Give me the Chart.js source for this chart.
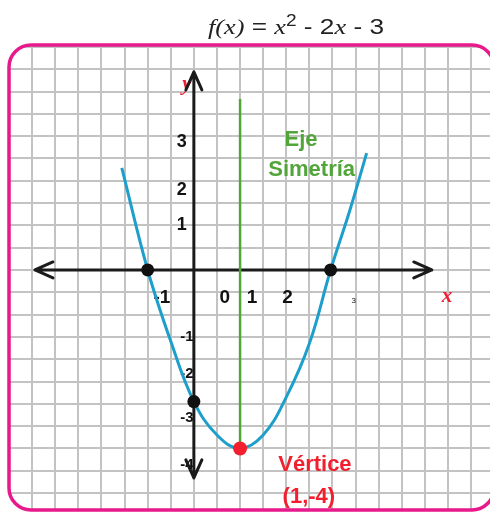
<!DOCTYPE html>
<html>
<head>
<meta charset="utf-8">
<script src="https://cdn.jsdelivr.net/npm/chart.js@4"></script>
<style>
  html, body { margin: 0; padding: 0; background: #fff; }
  canvas { display: block; }
</style>
</head>
<body>
<canvas id="parabola" width="490" height="513"></canvas>
<script>
const curveX = [-1.56, -1.0, -0.5, 0.0, 0.5, 1.0, 1.5, 2.0, 2.5, 2.96, 3.38, 3.74];
const curveY = [2.29, 0.0, -1.6, -2.95, -3.7, -4.0, -3.7, -2.85, -1.65, 0.0, 1.35, 2.62];

// roots and y-intercept (black dots), vertex (red dot)
const interceptX = [-1.0, 2.96, 0.0];
const interceptY = [0.0, 0.0, -2.95];
const vertexX = [1.0];
const vertexY = [-4.0];

// axis of symmetry
const symX = [1.0, 1.0];
const symY = [3.83, -4.0];

// axes with arrows (data extents)
const axisXRange = [-3.44, 5.15];
const axisYRange = [-4.66, 4.44];

// tick labels as they sit in the picture
const xTickText = ['-1', '0', '1', '2', '3'];
const xTickAt = [-0.69, 0.67, 1.26, 2.03, 3.46];
const yTickText = ['3', '2', '1', '-1', '-2', '-3', '-4'];
const yTickAt = [2.87, 1.79, 1.01, -1.50, -2.33, -3.32, -4.37];

// notes
const noteText = ['Eje', 'Simetría', 'Vértice', '(1,-4)'];
const noteX = [2.32, 2.55, 2.62, 2.49];
const noteY = [2.91, 2.24, -4.37, -5.09];

const SANS = '"Liberation Sans", Arial, sans-serif';
const GREEN = '#52a53a';
const RED = '#f2202e';

function halfSteps(a, b) {
  const out = [];
  for (let v = a; v <= b + 1e-9; v += 0.5) out.push({ value: Math.round(v * 10) / 10 });
  return out;
}

function frame(ctx) {
  ctx.beginPath();
  ctx.roundRect(9, 45, 485, 465, 22);
}

const decor = {
  id: 'decor',
  beforeDraw(chart) {
    const ctx = chart.ctx;
    ctx.save();
    ctx.fillStyle = '#fff';
    ctx.fillRect(0, 0, chart.width, chart.height);
    frame(ctx);
    ctx.clip();
  },
  beforeDatasetsDraw(chart) {
    const { ctx, scales: { x, y } } = chart;
    ctx.save();
    ctx.textAlign = 'center';
    ctx.textBaseline = 'middle';

    // x labels
    ctx.fillStyle = '#111';
    xTickText.forEach((t, i) => {
      ctx.font = t === '3' ? '8px ' + SANS : 'bold 19px ' + SANS;
      ctx.fillText(t, x.getPixelForValue(xTickAt[i]), y.getPixelForValue(t === '3' ? -0.68 : -0.63));
    });
    // y labels
    yTickText.forEach((t, i) => {
      const neg = t[0] === '-';
      ctx.font = neg ? 'bold 15px ' + SANS : 'bold 18px ' + SANS;
      ctx.fillText(t, x.getPixelForValue(neg ? -0.15 : -0.26), y.getPixelForValue(yTickAt[i]));
    });

    // axis names
    ctx.fillStyle = '#f21d34';
    ctx.font = 'italic bold 21px "Liberation Serif", serif';
    ctx.fillText('x', x.getPixelForValue(5.48), y.getPixelForValue(-0.6));
    ctx.fillText('y', x.getPixelForValue(-0.15), y.getPixelForValue(4.15));

    // notes
    ctx.font = 'bold 22px ' + SANS;
    noteText.forEach((t, i) => {
      ctx.fillStyle = i < 2 ? GREEN : RED;
      ctx.fillText(t, x.getPixelForValue(noteX[i]), y.getPixelForValue(noteY[i]));
    });

    // axes with arrow heads
    ctx.strokeStyle = '#1b1b1b';
    ctx.lineWidth = 3;
    ctx.lineCap = 'round';
    ctx.lineJoin = 'round';
    const xa = x.getPixelForValue(axisXRange[0]);
    const xb = x.getPixelForValue(axisXRange[1]);
    const y0 = y.getPixelForValue(0);
    const ya = y.getPixelForValue(axisYRange[1]);
    const yb = y.getPixelForValue(axisYRange[0]);
    const x0 = x.getPixelForValue(0);
    const L = 18, W = 8;
    ctx.beginPath();
    ctx.moveTo(xa, y0); ctx.lineTo(xb, y0);
    ctx.moveTo(xa + L, y0 - W); ctx.lineTo(xa, y0); ctx.lineTo(xa + L, y0 + W);
    ctx.moveTo(xb - L, y0 - W); ctx.lineTo(xb, y0); ctx.lineTo(xb - L, y0 + W);
    ctx.moveTo(x0, ya); ctx.lineTo(x0, yb);
    ctx.moveTo(x0 - W, ya + L); ctx.lineTo(x0, ya); ctx.lineTo(x0 + W, ya + L);
    ctx.moveTo(x0 - W, yb - L); ctx.lineTo(x0, yb); ctx.lineTo(x0 + W, yb - L);
    ctx.stroke();
    ctx.restore();
  },
  afterDraw(chart) {
    const ctx = chart.ctx;
    ctx.restore();
    ctx.save();
    ctx.strokeStyle = '#e8198b';
    ctx.lineWidth = 3.5;
    frame(ctx);
    ctx.stroke();

    // title f(x) = x² - 2x - 3
    const sans = '"Liberation Sans Narrow", "Liberation Sans", Arial, sans-serif';
    const serif = '"Liberation Serif", "Times New Roman", serif';
    const parts = [
      ['f(x)', 'italic 22px ' + serif, 0], [' = ', '22px ' + sans, 0], ['x', 'italic 22px ' + serif, 0],
      ['2', '16px ' + sans, -8], [' - 2', '22px ' + sans, 0], ['x', 'italic 22px ' + serif, 0], [' - 3', '22px ' + sans, 0]
    ];
    let total = 0;
    parts.forEach(p => { ctx.font = p[1]; total += ctx.measureText(p[0]).width; });
    const target = 176;
    ctx.translate(296 - target / 2, 34);
    ctx.scale(target / total, 1);
    ctx.fillStyle = '#222';
    ctx.textBaseline = 'alphabetic';
    let cx = 0;
    parts.forEach(p => {
      ctx.font = p[1];
      ctx.fillText(p[0], cx, p[2]);
      cx += ctx.measureText(p[0]).width;
    });
    ctx.restore();
  }
};

const toPoints = (xs, ys) => xs.map((v, i) => ({ x: v, y: ys[i] }));

new Chart(document.getElementById('parabola'), {
  type: 'scatter',
  data: {
    // first dataset ends up on top
    datasets: [
      {
        data: toPoints(vertexX, vertexY),
        backgroundColor: RED,
        borderWidth: 0,
        pointRadius: 7
      },
      {
        data: toPoints(interceptX, interceptY),
        backgroundColor: '#111',
        borderWidth: 0,
        pointRadius: 6.5
      },
      {
        data: toPoints(curveX, curveY),
        showLine: true,
        borderColor: '#1e9fcb',
        borderWidth: 3,
        pointRadius: 0,
        tension: 0.4
      },
      {
        data: toPoints(symX, symY),
        showLine: true,
        borderColor: GREEN,
        borderWidth: 2.5,
        pointRadius: 0
      }
    ]
  },
  options: {
    responsive: false,
    animation: false,
    layout: { autoPadding: false, padding: { left: 10, top: 46, right: 0, bottom: 3 } },
    plugins: { legend: { display: false }, tooltip: { enabled: false } },
    scales: {
      x: {
        type: 'linear', min: -3.98, max: 6.41,
        afterBuildTicks: s => { s.ticks = halfSteps(-3.5, 6.0); },
        ticks: { display: false },
        grid: { color: '#c3c3c3', lineWidth: 2, drawTicks: false },
        border: { display: false }
      },
      y: {
        type: 'linear', min: -5.38, max: 5.02,
        afterBuildTicks: s => { s.ticks = halfSteps(-5.0, 5.0); },
        ticks: { display: false },
        grid: { color: '#c3c3c3', lineWidth: 2, drawTicks: false },
        border: { display: false }
      }
    }
  },
  plugins: [decor]
});
</script>
</body>
</html>
